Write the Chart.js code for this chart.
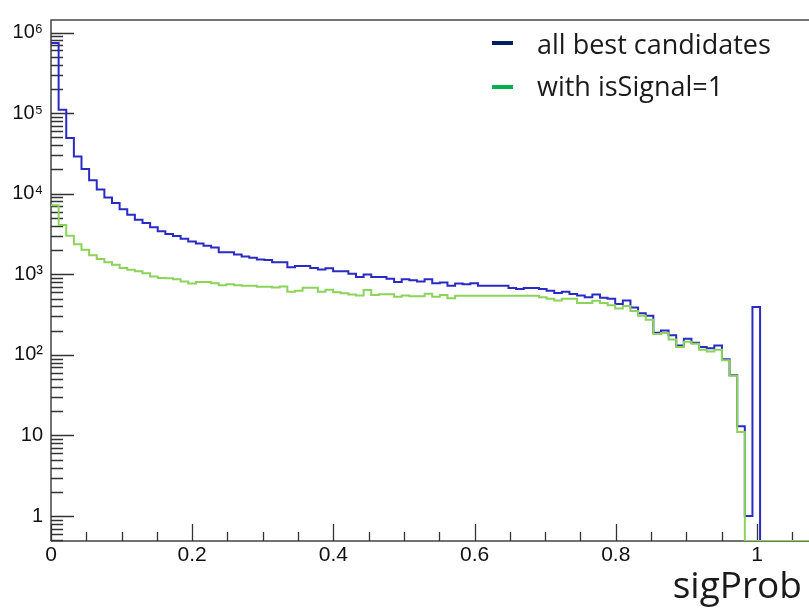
<!DOCTYPE html>
<html>
<head>
<meta charset="utf-8">
<script src="https://cdn.jsdelivr.net/npm/chart.js@4.4.1/dist/chart.umd.min.js"></script>
<style>
  html, body { margin: 0; padding: 0; background: #fff; overflow: hidden; }
</style>
</head>
<body>
<canvas id="grafico" width="809" height="612"></canvas>
<script>
// histograma sigProb: 100 bins en [0, 1.08]
const anchoBin = 0.0108;
const nombresSeries = ["all best candidates", "with isSignal=1"];
const nombreEjeX = "sigProb";

// todos los mejores candidatos (azul)
const cuentasTodos = [
  740000, 110000, 49000, 29000, 20300, 14700, 11300, 9000, 7650, 6400,
  5470, 4760, 4330, 3840, 3430, 3160, 2980, 2750, 2550, 2410,
  2260, 2155, 1875, 1875, 1757, 1663, 1603, 1528, 1500, 1406,
  1406, 1222, 1268, 1268, 1200, 1146, 1190, 1094, 1094, 1015,
  925, 996, 925, 925, 882, 804, 867, 843, 811, 867,
  775, 789, 719, 767, 754, 775, 719, 719, 719, 719,
  675, 656, 675, 675, 656, 626, 587, 608, 570, 544,
  519, 560, 510, 496, 427, 473, 386, 329, 305, 188,
  201, 175, 131, 158, 141, 125, 121, 131, 88, 56,
  13, 1, 393, 0, 0, 0, 0, 0, 0, 0
];

// con isSignal=1 (verde)
const cuentasSenal = [
  7200, 4090, 3000, 2350, 2020, 1720, 1550, 1410, 1310, 1200,
  1135, 1090, 1030, 940, 900, 890, 867, 811, 767, 804,
  804, 775, 733, 752, 733, 719, 719, 700, 700, 686,
  705, 608, 625, 680, 680, 608, 643, 597, 580, 560,
  544, 638, 555, 565, 565, 525, 544, 533, 533, 575,
  525, 555, 505, 540, 540, 540, 540, 540, 540, 540,
  540, 540, 540, 540, 519, 496, 473, 496, 496, 439,
  439, 469, 439, 412, 375, 404, 351, 305, 273, 182,
  187, 155, 125, 145, 137, 116, 110, 116, 86, 55,
  11, 0, 0, 0, 0, 0, 0, 0, 0, 0
];

const ticksX = [0, 0.2, 0.4, 0.6, 0.8, 1];
const etiquetasX = ["0", "0.2", "0.4", "0.6", "0.8", "1"];
const ticksY = [1, 10, 100, 1000, 10000, 100000, 1000000];
const etiquetasY = ["1", "10", "10\u00B2", "10\u00B3", "10\u2074", "10\u2075", "10\u2076"];

const minY = 0.49;
const maxY = 1430000;

const colorAzul = "#2a2ac4";
const colorVerde = "#8cd35a";
const leyendaColores = ["#002060", "#00b050"];

// pasa las cuentas a puntos escalonados (borde izquierdo de cada bin)
// los bins vacios se dibujan sobre el eje, como en ROOT
function aPuntos(cuentas) {
  const pts = cuentas.map((c, i) => ({ x: i * anchoBin, y: c > 0 ? c : minY }));
  pts.push({ x: cuentas.length * anchoBin, y: pts[pts.length - 1].y });
  return pts;
}

// marco, ejes y marcas estilo ROOT (hacia adentro)
const marcoEjes = {
  id: "marcoEjes",
  beforeDatasetsDraw(chart) {
    const { ctx, chartArea: a, scales: { x, y } } = chart;
    ctx.save();
    ctx.strokeStyle = "#444";
    ctx.lineWidth = 1.5;
    ctx.beginPath();
    ctx.moveTo(a.left, a.bottom); ctx.lineTo(a.left, a.top); ctx.lineTo(a.right + 5, a.top);
    ctx.moveTo(a.left, a.bottom); ctx.lineTo(a.right + 5, a.bottom);
    ctx.stroke();

    ctx.strokeStyle = "#333";
    ctx.lineWidth = 1.3;
    ctx.beginPath();
    // eje y: mayores y menores
    for (let n = -1; n <= 6; n++) {
      for (let k = 1; k <= 9; k++) {
        const v = k * Math.pow(10, n);
        if (v < y.min || v > y.max) continue;
        const py = Math.round(y.getPixelForValue(v)) + 0.5;
        const largo = k === 1 ? 23 : 12;
        ctx.moveTo(a.left, py); ctx.lineTo(a.left + largo, py);
      }
    }
    // eje x
    for (let i = 0; i <= 21; i++) {
      const v = i * 0.05;
      if (v > x.max) continue;
      const px = Math.round(x.getPixelForValue(v)) + 0.5;
      const largo = i % 4 === 0 ? 17 : 9;
      ctx.moveTo(px, a.bottom); ctx.lineTo(px, a.bottom - largo);
    }
    ctx.stroke();
    ctx.restore();
  }
};

const leyenda = {
  id: "leyenda",
  afterDraw(chart) {
    const { ctx } = chart;
    ctx.save();
    ctx.font = "27px 'Open Sans', Lato, sans-serif";
    ctx.textBaseline = "alphabetic";
    nombresSeries.forEach((nombre, i) => {
      const yy = 43 + i * 44;
      ctx.fillStyle = leyendaColores[i];
      ctx.fillRect(492, yy - 2, 21, 4);
      ctx.fillStyle = "#1a1a1a";
      ctx.fillText(nombre, 537, yy + 10.5 - i * 2);
    });
    // titulo del eje x
    ctx.font = "37px 'Open Sans', Lato, sans-serif";
    ctx.textAlign = "right";
    ctx.fillStyle = "#1a1a1a";
    ctx.fillText(nombreEjeX, 802, 598);
    ctx.restore();
  }
};

const ctx1 = document.getElementById("grafico").getContext("2d");
const chart1 = new Chart(ctx1, {
  type: "line",
  data: {
    datasets: [
      {
        label: nombresSeries[0],
        data: aPuntos(cuentasTodos),
        borderColor: colorAzul,
        borderWidth: 2,
        stepped: true,
        pointRadius: 0,
        fill: false,
        order: 2
      },
      {
        label: nombresSeries[1],
        data: aPuntos(cuentasSenal),
        borderColor: colorVerde,
        borderWidth: 2,
        stepped: true,
        pointRadius: 0,
        fill: false,
        order: 1
      }
    ]
  },
  options: {
    responsive: false,
    animation: false,
    devicePixelRatio: 1,
    layout: { padding: { top: 8, right: 0, left: 0, bottom: 0 } },
    plugins: {
      legend: { display: false },
      tooltip: { enabled: false }
    },
    scales: {
      x: {
        type: "linear",
        min: 0,
        max: 1.0737,
        grid: { display: false, drawTicks: false },
        border: { display: false },
        afterBuildTicks: (s) => { s.ticks = ticksX.map(v => ({ value: v })); },
        afterFit: (s) => { s.height = 71; },
        ticks: {
          padding: 2,
          maxRotation: 0,
          color: "#111",
          font: { family: "'Liberation Sans', Arial", size: 21 },
          callback: (v, i) => etiquetasX[i]
        }
      },
      y: {
        type: "logarithmic",
        min: minY,
        max: maxY,
        grid: { display: false, drawTicks: false },
        border: { display: false },
        afterBuildTicks: (s) => { s.ticks = ticksY.map(v => ({ value: v })); },
        afterFit: (s) => { s.width = 51; },
        ticks: {
          padding: 8,
          color: "#111",
          font: { family: "'Liberation Sans', Arial", size: 20 },
          callback: (v, i) => etiquetasY[i]
        }
      }
    }
  },
  plugins: [marcoEjes, leyenda]
});
</script>
</body>
</html>
